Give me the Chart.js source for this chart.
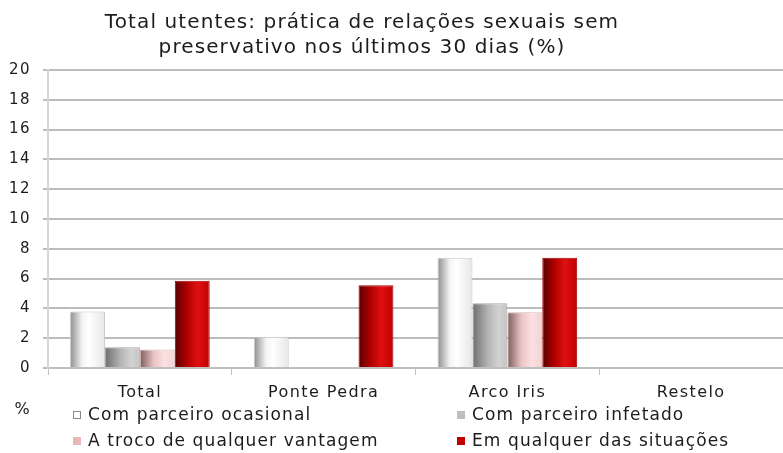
<!DOCTYPE html>
<html>
<head>
<meta charset="utf-8">
<script src="https://cdn.jsdelivr.net/npm/chart.js@4"></script>
<style>
  html, body { margin: 0; padding: 0; background: #fff; }
  #wrap { width: 783px; height: 453px; }
</style>
</head>
<body>
<div id="wrap"><canvas id="chart" width="783" height="453"></canvas></div>
<script>
// ---- data ----
const title = ["Total utentes: prática de relações sexuais sem", "preservativo nos últimos 30 dias (%)"];
const unitLabel = "%";
const places = ["Total", "Ponte Pedra", "Arco Iris", "Restelo"];
const seriesNames = [
  "Com parceiro ocasional",
  "Com parceiro infetado",
  "A troco de qualquer vantagem",
  "Em qualquer das situações",
];
const casual = [3.8, 2.1, 7.4, 0];
const infected = [1.4, 0, 4.35, 0];
const advantage = [1.25, 0, 3.75, 0];
const anyCase = [5.85, 5.55, 7.4, 0];
const yTicks = [0, 2, 4, 6, 8, 10, 12, 14, 16, 18, 20];

const FONT = '"DejaVu Sans", Verdana, sans-serif';
const INK = "#1c1c1c";
const GROUP = 0.76; // share of a category taken by the bar group

// shaded (cylinder look) fills, left to right across each bar
const shades = [
  [[0, "#8c8c8c"], [0.35, "#f4f4f4"], [0.55, "#ffffff"], [1, "#e6e6e6"]],
  [[0, "#6e6e6e"], [0.45, "#b4b4b4"], [0.75, "#d2d2d2"], [1, "#c4c4c4"]],
  [[0, "#7d5c5c"], [0.4, "#e9c4c4"], [0.7, "#fde0e0"], [1, "#f3d2d2"]],
  [[0, "#5a0000"], [0.35, "#b00000"], [0.65, "#e01010"], [1, "#c00000"]],
];
const flat = ["#ffffff", "#bfbfbf", "#e6b9b8", "#c00000"];
const edges = ["#c8c8c8", "#a8a8a8", "#d8b4b4", "#a00000"];

function shadedFill(ctx) {
  const chart = ctx.chart;
  const xs = chart.scales.x;
  if (ctx.type !== "data" || !xs) return flat[ctx.datasetIndex];
  const group = (xs.width / places.length) * GROUP;
  const bw = group / seriesNames.length;
  const left = xs.getPixelForValue(ctx.dataIndex) - group / 2 + ctx.datasetIndex * bw;
  if (!isFinite(left) || !isFinite(bw) || bw <= 0) return flat[ctx.datasetIndex];
  const g = chart.ctx.createLinearGradient(left, 0, left + bw, 0);
  shades[ctx.datasetIndex].forEach(([o, c]) => g.addColorStop(o, c));
  return g;
}

// title, unit label and the 2x2 legend are drawn by hand
const extras = {
  id: "extras",
  beforeDraw(chart) {
    // wider letter spacing for the axis labels
    chart.ctx.letterSpacing = "1.4px";
  },
  afterDraw(chart) {
    const c = chart.ctx;
    c.save();
    c.fillStyle = INK;
    c.textBaseline = "middle";
    c.textAlign = "center";
    c.font = "20px " + FONT;
    c.letterSpacing = "1.1px";
    title.forEach((t, i) => c.fillText(t, 362, 23 + i * 25));
    c.font = "16px " + FONT;
    c.letterSpacing = "0px";
    c.fillText(unitLabel, 22, 410);

    const cols = [73, 457];
    const rows = [415, 441];
    c.textAlign = "left";
    c.font = "17px " + FONT;
    c.letterSpacing = "1.1px";
    seriesNames.forEach((name, i) => {
      const x = cols[i % 2];
      const y = rows[Math.floor(i / 2)];
      c.fillStyle = flat[i];
      c.fillRect(x, y - 4, 8, 8);
      if (i === 0) {
        c.strokeStyle = "#8c8c8c";
        c.lineWidth = 1;
        c.strokeRect(x + 0.5, y - 3.5, 7, 7);
      }
      c.fillStyle = INK;
      c.fillText(name, x + 15, y + 1);
    });
    c.restore();
  },
};

const series = [casual, infected, advantage, anyCase];

new Chart(document.getElementById("chart"), {
  type: "bar",
  data: {
    labels: places,
    datasets: series.map((vals, i) => ({
      label: seriesNames[i],
      data: vals,
      backgroundColor: shadedFill,
      borderColor: edges[i],
      borderWidth: 1,
      barPercentage: 1,
      categoryPercentage: GROUP,
    })),
  },
  options: {
    responsive: false,
    animation: false,
    layout: { padding: { top: 70, right: 0, bottom: 45, left: 0 } },
    plugins: {
      legend: { display: false },
      title: { display: false },
      tooltip: { enabled: false },
    },
    scales: {
      x: {
        offset: true,
        grid: {
          offset: true,
          drawOnChartArea: false,
          drawTicks: true,
          tickLength: 7,
          color: "#bfbfbf",
          lineWidth: 1,
        },
        border: { color: "#bfbfbf", width: 2 },
        ticks: { color: INK, font: { family: FONT, size: 16 }, padding: 8 },
        afterFit: (s) => { s.height = 40; },
      },
      y: {
        min: 0,
        max: 20,
        afterBuildTicks: (s) => { s.ticks = yTicks.map((v) => ({ value: v })); },
        grid: { color: "#bcbcbc", lineWidth: 2, drawTicks: true, tickLength: 5 },
        border: { color: "#d6d6d6", width: 2 },
        ticks: { color: INK, font: { family: FONT, size: 15 }, padding: 12 },
        afterFit: (s) => { s.width = 48; },
      },
    },
  },
  plugins: [extras],
});
</script>
</body>
</html>
